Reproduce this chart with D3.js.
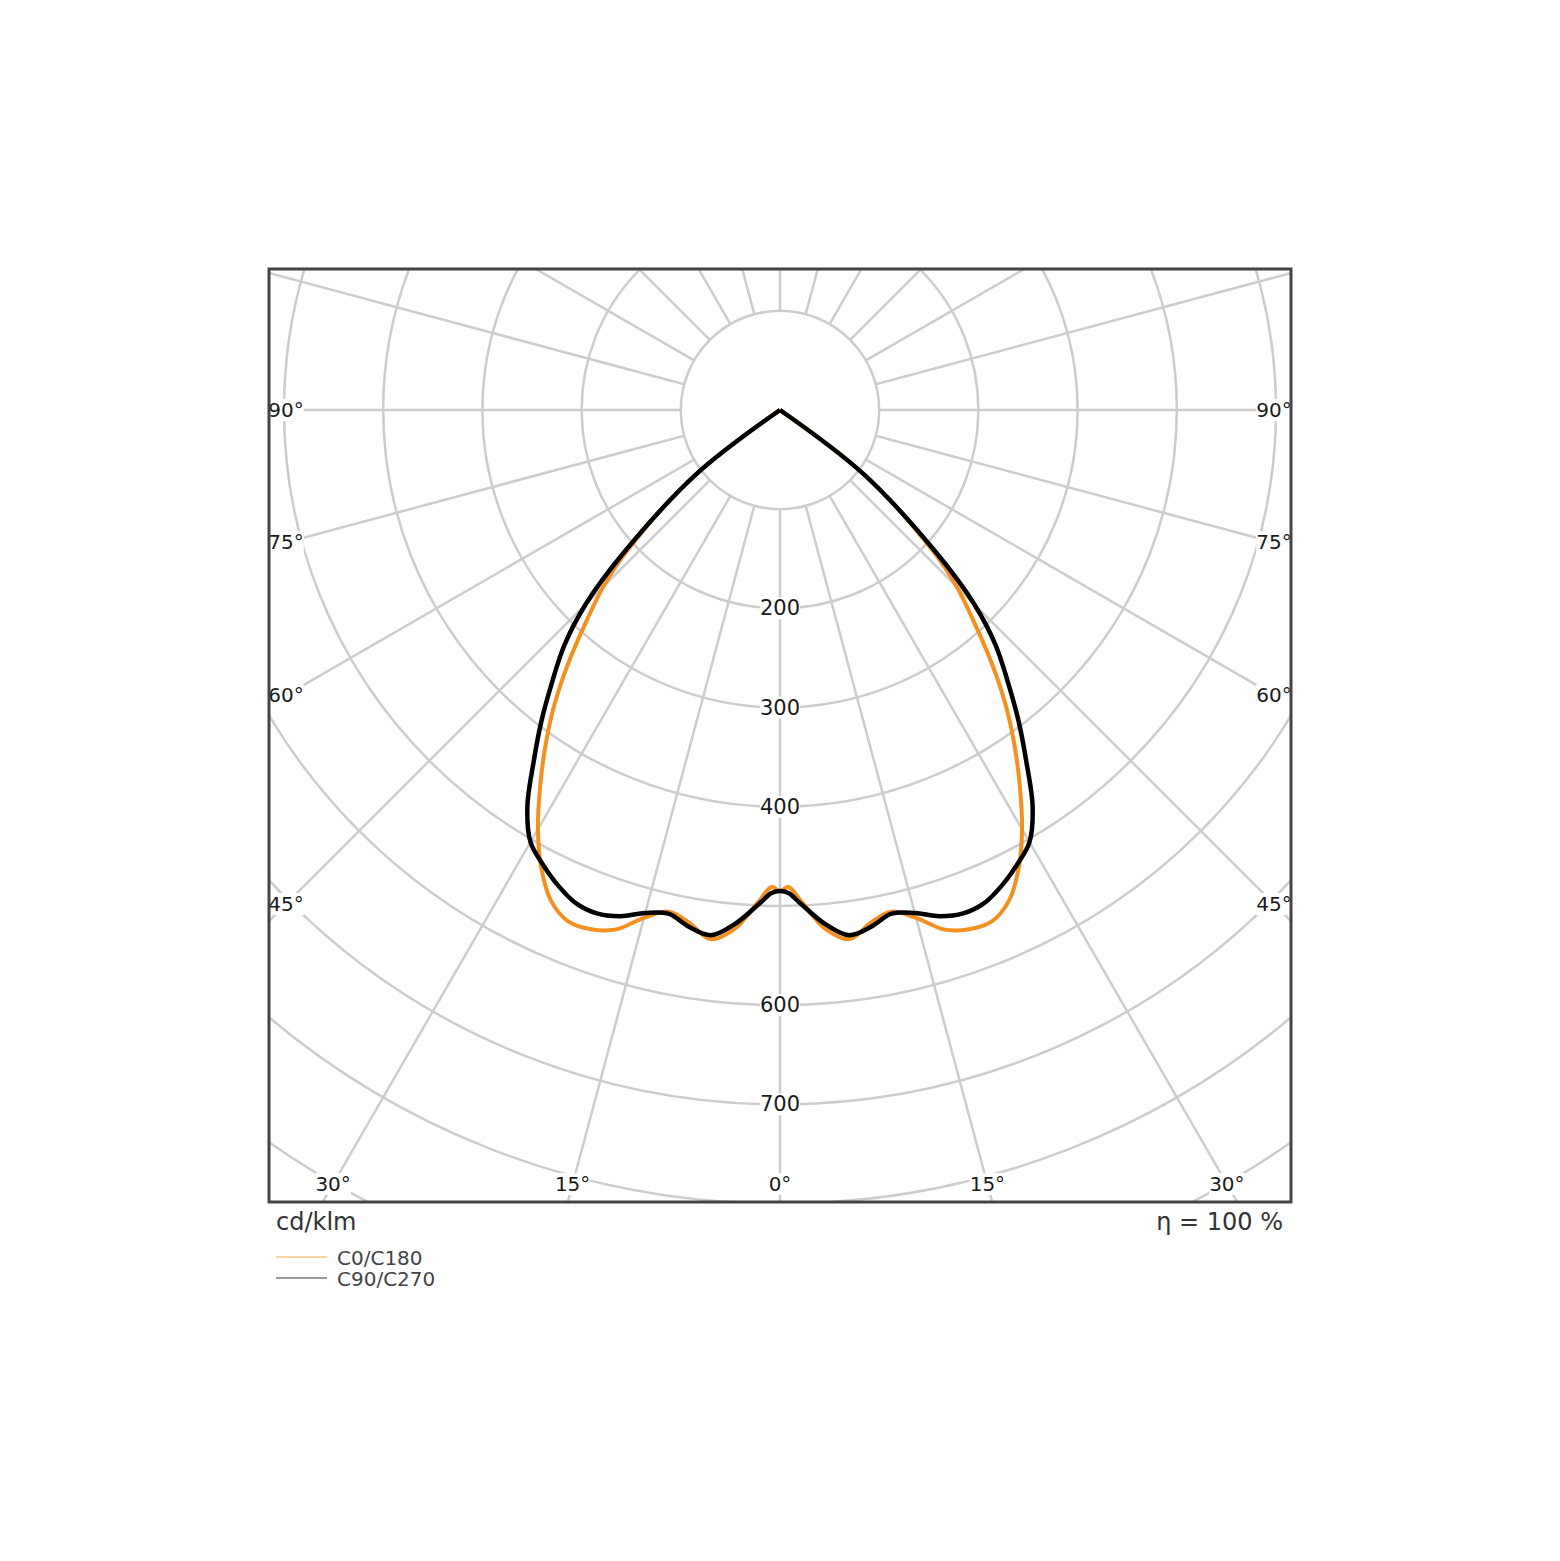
<!DOCTYPE html>
<html>
<head>
<meta charset="utf-8">
<script src="https://cdn.jsdelivr.net/npm/d3@7"></script>
<style>
  body { margin: 0; background: #fff; }
  svg { display: block; font-family: "DejaVu Sans", sans-serif; }
</style>
</head>
<body>
<div id="chart"></div>
<script>
// gamma angle from nadir (deg) and intensity in cd/klm, mirrored left/right
const gammaAngles = [0, 1, 2.5, 5, 7.5, 10, 12.5, 15, 17.5, 20, 22.5, 25, 27.5, 30, 32.5, 35, 37.5, 40, 42.5, 45, 47.5, 52.5, 55];
const c0c180 =      [485, 481, 496, 525, 538, 525, 518, 530, 549, 557, 558, 546, 521, 488, 450, 412, 373, 331, 289, 252, 207, 107, 0];
const c90c270 =     [485, 487, 499, 520, 534, 529, 520, 525, 535, 540, 538, 529, 517, 503, 474, 433, 395, 357, 322, 277, 216, 107, 0];
const seriesNames = ["C0/C180", "C90/C270"];

const ringValues = [100, 200, 300, 400, 500, 600, 700, 800, 900];
const ringLabels = [200, 300, 400, 600, 700];
const spokeAngles = d3.range(0, 360, 15);
const sideLabels = [45, 60, 75, 90];
const bottomLabels = [-30, -15, 0, 15, 30];
const unitLabel = "cd/klm";
const efficiencyLabel = "η = 100 %";


/**********************
***** BASIC SETUP *****
**********************/

const width = 1560;
const height = 1561;
const frame = {left: 269, top: 269, right: 1291, bottom: 1202};
const cx = 780;
const cy = 410;

const colorC0 = "#f39020";
const colorC90 = "#000000";
const gridColor = "#cccccc";

const svg = d3.select("#chart")
    .append("svg")
    .attr("width", width)
    .attr("height", height);

svg.append("rect")
    .attr("width", width)
    .attr("height", height)
    .style("fill", "white");

svg.append("clipPath")
    .attr("id", "frameClip")
    .append("rect")
    .attr("x", frame.left)
    .attr("y", frame.top)
    .attr("width", frame.right - frame.left)
    .attr("height", frame.bottom - frame.top);

const rScale = d3.scaleLinear()
    .domain([0, 100])
    .range([0, 99.2]);

const rad = deg => deg * Math.PI / 180;


/**********************
***** POLAR GRID *****
**********************/

// clip on the outer group (untransformed), grid drawn around the centre
const grid = svg.append("g")
    .attr("clip-path", "url(#frameClip)")
    .append("g")
    .attr("transform", `translate(${cx},${cy})`);

grid.selectAll(".ring")
    .data(ringValues)
    .enter()
    .append("circle")
    .attr("class", "ring")
    .attr("r", d => rScale(d))
    .style("fill", "none")
    .style("stroke", gridColor)
    .style("stroke-width", 2.5);

// spokes start at the inner ring; angle measured from straight down
grid.selectAll(".spoke")
    .data(spokeAngles)
    .enter()
    .append("line")
    .attr("class", "spoke")
    .attr("x1", d => rScale(100) * Math.sin(rad(d)))
    .attr("y1", d => rScale(100) * Math.cos(rad(d)))
    .attr("x2", d => rScale(1100) * Math.sin(rad(d)))
    .attr("y2", d => rScale(1100) * Math.cos(rad(d)))
    .style("stroke", gridColor)
    .style("stroke-width", 2.5);


/*************************
***** GRID LABELS *****
*************************/

function boxedLabel(parent, x, y, text, size) {
    const g = parent.append("g");
    const t = g.append("text")
        .attr("x", x)
        .attr("y", y)
        .attr("text-anchor", "middle")
        .attr("dominant-baseline", "central")
        .style("font-size", size + "px")
        .style("fill", "#1a1a1a")
        .text(text);
    const b = t.node().getBBox();
    g.insert("rect", "text")
        .attr("x", b.x)
        .attr("y", b.y + 1)
        .attr("width", b.width)
        .attr("height", b.height - 2)
        .style("fill", "white");
}

const labels = svg.append("g").attr("clip-path", "url(#frameClip)");

ringLabels.forEach(v => boxedLabel(labels, cx, cy + rScale(v), v, 21));

let sideInset = 17;
sideLabels.forEach(g => {
    let t = (cx - (frame.left + sideInset)) / Math.sin(rad(g));
    let y = cy + t * Math.cos(rad(g));
    boxedLabel(labels, frame.left + sideInset, y, g + "°", 20);
    boxedLabel(labels, frame.right - sideInset, y, g + "°", 20);
});

let bottomInset = 18;
bottomLabels.forEach(g => {
    let y = frame.bottom - bottomInset;
    let x = cx + (y - cy) * Math.tan(rad(g));
    boxedLabel(labels, x, y, Math.abs(g) + "°", 20);
});


/**********************
***** CURVES *****
**********************/

function polarPoints(values) {
    // left half (C180 / C270) then right half (C0 / C90)
    let left = gammaAngles.map((g, i) => ({a: Math.PI + rad(g), v: values[i]})).reverse();
    let right = gammaAngles.map((g, i) => ({a: Math.PI - rad(g), v: values[i]})).slice(1);
    return left.concat(right);
}

const radialLine = d3.lineRadial()
    .angle(d => d.a)
    .radius(d => rScale(d.v))
    .curve(d3.curveCatmullRom.alpha(0.5));

const curves = svg.append("g")
    .attr("transform", `translate(${cx},${cy})`);

curves.append("path")
    .datum(polarPoints(c0c180))
    .attr("d", radialLine)
    .style("fill", "none")
    .style("stroke", colorC0)
    .style("stroke-width", 4)
    .style("stroke-linejoin", "round");

curves.append("path")
    .datum(polarPoints(c90c270))
    .attr("d", radialLine)
    .style("fill", "none")
    .style("stroke", colorC90)
    .style("stroke-width", 4.5)
    .style("stroke-linejoin", "round");


/**********************
***** FRAME *****
**********************/

svg.append("rect")
    .attr("x", frame.left)
    .attr("y", frame.top)
    .attr("width", frame.right - frame.left)
    .attr("height", frame.bottom - frame.top)
    .style("fill", "none")
    .style("stroke", "#444")
    .style("stroke-width", 3);


/*************************
***** CAPTION, LEGEND *****
*************************/

svg.append("text")
    .attr("x", 276)
    .attr("y", 1230)
    .style("font-size", "24px")
    .style("fill", "#333")
    .text(unitLabel);

svg.append("text")
    .attr("x", 1283)
    .attr("y", 1230)
    .attr("text-anchor", "end")
    .style("font-size", "24px")
    .style("fill", "#333")
    .text(efficiencyLabel);

const legendColors = ["#fad4a0", "#999999"];
const legend = svg.append("g");

seriesNames.forEach((name, i) => {
    let y = 1257 + i * 21;
    legend.append("line")
        .attr("x1", 276)
        .attr("x2", 327)
        .attr("y1", y)
        .attr("y2", y)
        .style("stroke", legendColors[i])
        .style("stroke-width", 2);
    legend.append("text")
        .attr("x", 337)
        .attr("y", y + 8)
        .style("font-size", "20px")
        .style("fill", "#444")
        .text(name);
});
</script>
</body>
</html>
